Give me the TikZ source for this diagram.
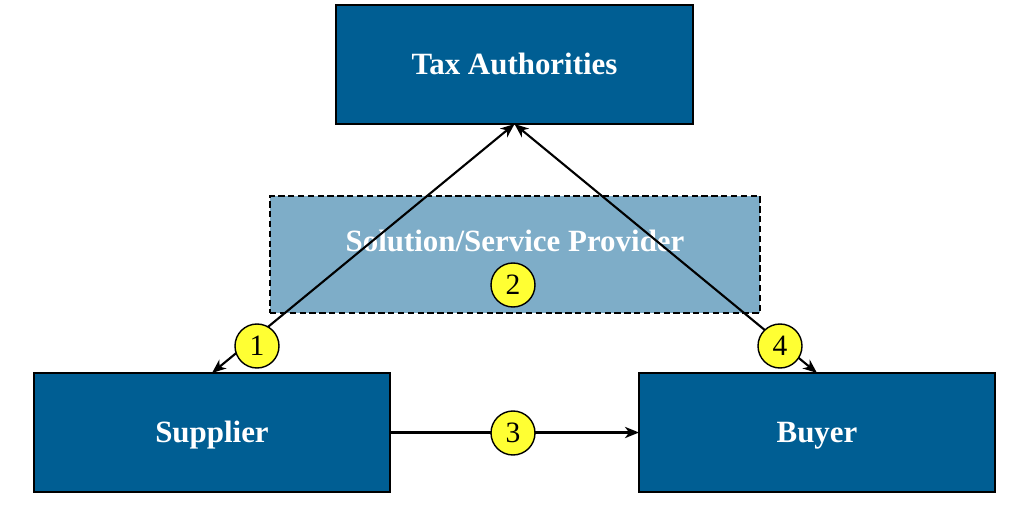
\documentclass[tikz,border=0pt]{standalone}
\usepackage{fontspec}
\setmainfont{Liberation Serif}
\usetikzlibrary{arrows.meta}
\definecolor{taxblue}{HTML}{005E93}
\definecolor{provblue}{HTML}{7EADC8}
\definecolor{markyellow}{HTML}{FFFF33}

\begin{document}
\begin{tikzpicture}[
    >={Stealth[length=10pt, width=8pt, inset=3pt]},
    party/.style={draw=black, line width=1pt, fill=taxblue, text=white,
      font=\fontsize{22}{26}\selectfont\bfseries,
      text height=15pt, text depth=0.4pt,
      minimum width=8.9cm, minimum height=2.975cm,
      inner sep=0pt, outer sep=0pt},
    stepmark/.style={circle, draw=black, line width=1pt, fill=markyellow,
      minimum size=1.1cm, inner sep=0pt,
      font=\fontsize{21}{22}\selectfont},
    flow/.style={draw=black, line width=1.5pt},
  ]

  % ══════════════════════════════════════════════════════
  % Canvas
  % ══════════════════════════════════════════════════════
  \useasboundingbox (0,0) rectangle (25.6,-12.675);

  % ══════════════════════════════════════════════════════
  % Parties
  % ══════════════════════════════════════════════════════
  \node[party, minimum width=8.925cm] (tax) at (12.8625,-1.6125) {Tax Authorities};

  \node[draw=black, dash pattern=on 4.5pt off 2.5pt, line width=0.9pt,
        fill=provblue, minimum width=12.25cm, minimum height=2.925cm,
        inner sep=0pt, outer sep=0pt]
    (provider) at (12.875,-6.3625) {};
  \node[text=white, font=\fontsize{22}{26}\selectfont\bfseries,
        text height=15pt, text depth=0.4pt]
    (providerlabel) at (12.875,-6.025) {Solution/Service Provider};

  \node[party] (supplier) at (5.3,-10.8125) {Supplier};
  \node[party] (buyer) at (20.425,-10.8125) {Buyer};

  % ══════════════════════════════════════════════════════
  % Flows
  % ══════════════════════════════════════════════════════
  \draw[flow, <->] (supplier.north) -- (tax.south);
  \draw[flow, <->] (buyer.north) -- (tax.south);
  \draw[flow, ->] (supplier.east) -- (buyer.west);

  % ══════════════════════════════════════════════════════
  % Step markers
  % ══════════════════════════════════════════════════════
  \node[stepmark] (s1) at (6.425,-8.65) {1};
  \node[stepmark] (s2) at (12.825,-7.125) {2};
  \node[stepmark] (s3) at (12.825,-10.825) {3};
  \node[stepmark] (s4) at (19.5,-8.65) {4};

\end{tikzpicture}
\end{document}
